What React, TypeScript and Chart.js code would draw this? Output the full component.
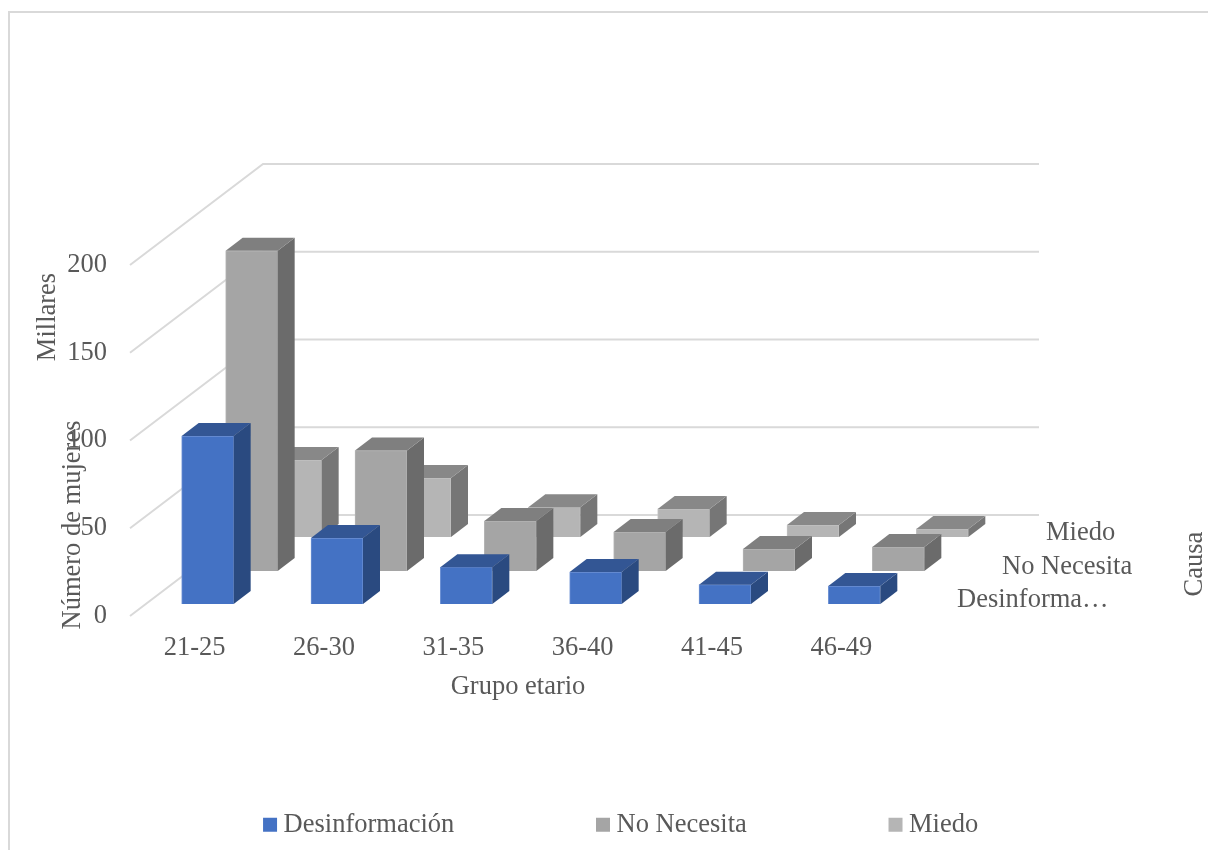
import React, { useEffect, useRef } from "react";
import { Chart, registerables } from "chart.js";

Chart.register(...registerables);

const ageGroups = ["21-25", "26-30", "31-35", "36-40", "41-45", "46-49"];
const desinformacion = [95.7, 37.6, 21, 18.2, 11, 10.2];
const noNecesita = [182.5, 68.6, 28.5, 22.2, 12.5, 13.7];
const miedo = [43.9, 33.6, 17, 16, 6.8, 4.6];
const seriesNames = ["Desinformación", "No Necesita", "Miedo"];
const depthLabels = ["Miedo", "No Necesita", "Desinforma…"];

const frontColors = ["#4472C4", "#A5A5A5", "#B5B5B5"];
const edgeColors = ["#6E92D4", "#B4B4B4", "#C2C2C2"];
const sideColors = ["#2A4A80", "#6B6B6B", "#767676"];
const topColors = ["#335694", "#7F7F7F", "#888888"];

const FONT = "'Liberation Serif', 'Times New Roman', serif";
const TEXT = "#595959";
const GRID = "#D9D9D9";
const FONT_SIZE = 26.5;

// Oblique projection: how each series row and each box extrude into the depth axis.
const wallDepth = { x: 133, y: -101 };
const rowOffsets = [
  { x: 13, y: -12 },
  { x: 57, y: -45 },
  { x: 101, y: -79 },
];
const boxDepth = { x: 17, y: -13 };

const poly = (ctx: CanvasRenderingContext2D, pts: number[][], fill: string) => {
  ctx.beginPath();
  pts.forEach(([x, y], i) => (i ? ctx.lineTo(x, y) : ctx.moveTo(x, y)));
  ctx.closePath();
  ctx.fillStyle = fill;
  ctx.fill();
};

const wallPlugin = {
  id: "wall",
  beforeDatasetsDraw(chart: any) {
    const { ctx, scales, chartArea } = chart;
    ctx.save();
    // card outline
    ctx.strokeStyle = GRID;
    ctx.lineWidth = 2;
    ctx.strokeRect(9, 12, 1400, 1000);
    // side and back wall gridlines follow the value axis ticks
    scales.y.ticks.forEach((t: any) => {
      const y = scales.y.getPixelForValue(t.value);
      ctx.beginPath();
      ctx.moveTo(chartArea.left, y);
      ctx.lineTo(chartArea.left + wallDepth.x, y + wallDepth.y);
      ctx.lineTo(chartArea.right + wallDepth.x, y + wallDepth.y);
      ctx.stroke();
    });
    ctx.restore();
  },
};

const boxPlugin = {
  id: "box",
  beforeDatasetDraw(chart: any, args: any) {
    const o = rowOffsets[args.index];
    chart.ctx.save();
    chart.ctx.translate(o.x, o.y);
  },
  afterDatasetDraw(chart: any, args: any) {
    const { ctx } = chart;
    args.meta.data.forEach((bar: any) => {
      const { x, y, base, width } = bar.getProps(["x", "y", "base", "width"], true);
      const l = x - width / 2;
      const r = x + width / 2;
      poly(
        ctx,
        [[r, y], [r + boxDepth.x, y + boxDepth.y], [r + boxDepth.x, base + boxDepth.y], [r, base]],
        sideColors[args.index]
      );
      poly(
        ctx,
        [[l, y], [l + boxDepth.x, y + boxDepth.y], [r + boxDepth.x, y + boxDepth.y], [r, y]],
        topColors[args.index]
      );
    });
    ctx.restore();
  },
};

const annotationPlugin = {
  id: "annotations",
  afterDraw(chart: any) {
    const { ctx } = chart;
    ctx.save();
    ctx.fillStyle = TEXT;
    ctx.font = `${FONT_SIZE}px ${FONT}`;
    ctx.textBaseline = "middle";
    ctx.textAlign = "left";
    ctx.fillText(depthLabels[0], 1046, 533);
    ctx.fillText(depthLabels[1], 1002, 567);
    ctx.fillText(depthLabels[2], 957, 600);
    ctx.textAlign = "center";
    const vertical = (text: string, x: number, y: number) => {
      ctx.save();
      ctx.translate(x, y);
      ctx.rotate(-Math.PI / 2);
      ctx.fillText(text, 0, 0);
      ctx.restore();
    };
    vertical("Causa", 1195, 564);
    vertical("Millares", 48, 317);
    vertical("Número de mujeres", 73, 525);
    ctx.restore();
  },
};

export default function App() {
  const ref = useRef<HTMLCanvasElement>(null);

  useEffect(() => {
    const font = { family: FONT, size: FONT_SIZE };
    const chart = new Chart(ref.current as HTMLCanvasElement, {
      type: "bar",
      data: {
        labels: ageGroups,
        datasets: [desinformacion, noNecesita, miedo].map((values, i) => ({
          label: seriesNames[i],
          data: values,
          backgroundColor: frontColors[i],
          borderColor: edgeColors[i],
          borderWidth: 1,
          barThickness: 52,
          clip: false,
        })),
      } as any,
      plugins: [wallPlugin, boxPlugin, annotationPlugin],
      options: {
        responsive: false,
        animation: false,
        layout: { padding: { top: 265, left: 40, right: 0, bottom: 2 } },
        datasets: { bar: { grouped: false } },
        scales: {
          x: {
            grid: { display: false, drawTicks: false },
            border: { display: false },
            ticks: { color: TEXT, font, padding: 16, maxRotation: 0 },
            title: {
              display: true,
              text: "Grupo etario",
              color: TEXT,
              font,
              padding: { top: 0, bottom: -40 },
            },
            afterFit: (s: any) => {
              s.height = 47;
            },
          },
          y: {
            min: 0,
            max: 200,
            grid: { display: false, drawTicks: false },
            border: { display: false },
            ticks: { stepSize: 50, color: TEXT, font, padding: 23 },
            afterFit: (s: any) => {
              s.width = 90;
            },
          },
          depthSpace: {
            type: "linear",
            position: "right",
            grid: { display: false, drawTicks: false },
            border: { display: false },
            ticks: { display: false },
            afterFit: (s: any) => {
              s.width = 302;
            },
          },
        },
        plugins: {
          tooltip: { enabled: false },
          legend: {
            position: "bottom",
            labels: {
              font,
              color: TEXT,
              padding: 148.5,
              boxWidth: 0.5,
              boxHeight: 0.5,
              generateLabels: () =>
                seriesNames.map((text, i) => ({
                  text,
                  fillStyle: frontColors[i],
                  strokeStyle: frontColors[i],
                  lineWidth: 13.5,
                  fontColor: TEXT,
                  datasetIndex: i,
                })),
            },
          },
        },
      } as any,
    });
    return () => chart.destroy();
  }, []);

  return (
    <div style={{ position: "absolute", left: 0, top: 0, width: 1208, height: 850, overflow: "hidden", background: "#fff" }}>
      <canvas ref={ref} width={1208} height={850} style={{ display: "block" }} />
    </div>
  );
}
